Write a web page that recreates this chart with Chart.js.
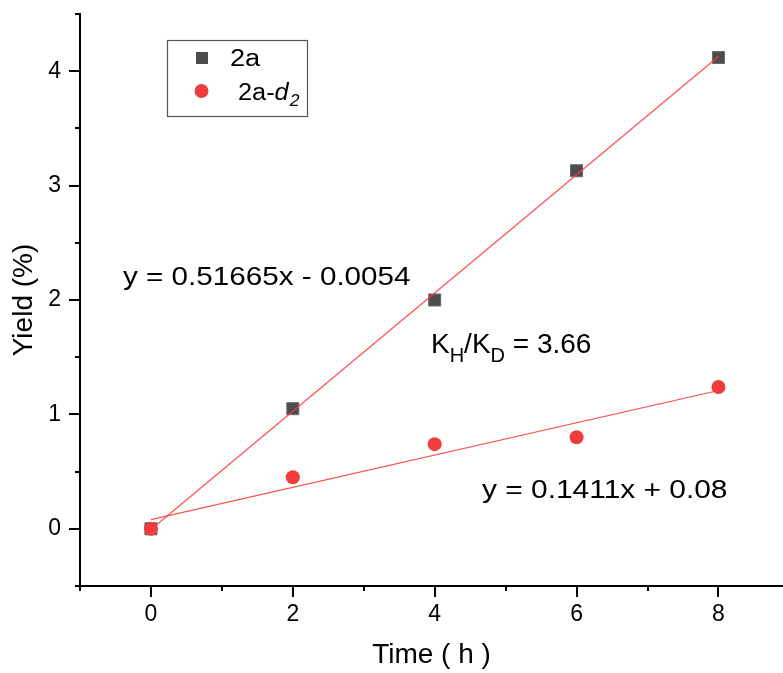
<!DOCTYPE html>
<html>
<head>
<meta charset="utf-8">
<script src="https://cdn.jsdelivr.net/npm/chart.js@4/dist/chart.umd.min.js"></script>
<style>
  html, body { margin: 0; padding: 0; background: #ffffff; overflow: hidden; }
  #wrap { width: 783px; height: 673px; }
  canvas { display: block; }
</style>
</head>
<body>
<div id="wrap"><canvas id="c" width="783" height="673"></canvas></div>
<script>
// ---- data ----
const timeH = [0, 2, 4, 6, 8];
const yield2a = [0, 1.05, 2.0, 3.13, 4.12];
const yield2aD2 = [0, 0.45, 0.74, 0.80, 1.24];
// fitted lines (end points from the printed equations)
const fitX = [0, 8];
const fit2aY = [-0.0054, 4.1278];
const fitD2Y = [0.08, 1.2088];
// axes
const xTicks = [0, 2, 4, 6, 8];
const yTicks = [0, 1, 2, 3, 4];
const xMinorTicks = [-1, 1, 3, 5, 7];
const yMinorTicks = [-0.5, 0.5, 1.5, 2.5, 3.5, 4.5];
const xRange = [-1, 8.91];
const yRange = [-0.5, 4.5];
// texts
const eq2a = 'y = 0.51665x - 0.0054';
const eqD2 = 'y = 0.1411x + 0.08';
const legendLabels = ['2a', '2a-', 'd', '2'];

const FONT = 'Arial, "Liberation Sans", sans-serif';
const squareColor = '#4d4d4d';
const circleColor = '#f03c3c';
const lineColor = 'rgba(255,60,60,0.9)';

function pts(xs, ys) { return xs.map((x, i) => ({ x: x, y: ys[i] })); }

function drawScaledText(ctx, text, x, y, font, sx) {
  ctx.save();
  ctx.font = font;
  ctx.translate(x, y);
  ctx.scale(sx, 1);
  ctx.fillText(text, 0, 0);
  const w = ctx.measureText(text).width * sx;
  ctx.restore();
  return w;
}

function zeroPad(s) { s.paddingTop = 0; s.paddingBottom = 0; s.paddingLeft = 0; s.paddingRight = 0; }

const decorPlugin = {
  id: 'decor',
  afterDraw(chart) {
    const ctx = chart.ctx;
    const xs = chart.scales.x, ys = chart.scales.y;
    const ca = chart.chartArea;
    ctx.save();
    ctx.strokeStyle = '#000';
    ctx.lineWidth = 2;
    ctx.beginPath();
    xTicks.forEach(v => { const p = Math.round(xs.getPixelForValue(v)); ctx.moveTo(p, ca.bottom); ctx.lineTo(p, ca.bottom + 11); });
    xMinorTicks.forEach(v => { const p = Math.round(xs.getPixelForValue(v)); ctx.moveTo(p, ca.bottom); ctx.lineTo(p, ca.bottom + 5); });
    yTicks.forEach(v => { const p = Math.round(ys.getPixelForValue(v)); ctx.moveTo(ca.left, p); ctx.lineTo(ca.left - 11, p); });
    yMinorTicks.forEach(v => { const p = Math.round(ys.getPixelForValue(v)); ctx.moveTo(ca.left, p); ctx.lineTo(ca.left - 5, p); });
    ctx.stroke();

    // legend box
    ctx.lineWidth = 1.2;
    ctx.strokeStyle = '#555';
    ctx.strokeRect(167.5, 40.5, 140, 76);
    ctx.fillStyle = squareColor;
    ctx.fillRect(196, 52, 12, 12);
    ctx.fillStyle = circleColor;
    ctx.beginPath(); ctx.arc(201.5, 91, 7, 0, Math.PI * 2); ctx.fill();
    ctx.fillStyle = '#000';
    ctx.textBaseline = 'alphabetic';
    ctx.textAlign = 'left';
    drawScaledText(ctx, legendLabels[0], 230, 66, '23px ' + FONT, 1.18);
    let x = 238;
    x += drawScaledText(ctx, legendLabels[1], x, 100, '23px ' + FONT, 1.1);
    x += drawScaledText(ctx, legendLabels[2], x, 100, 'italic 23px ' + FONT, 1.1);
    drawScaledText(ctx, legendLabels[3], x + 1, 106, 'italic 16px ' + FONT, 1.1);

    // equations
    drawScaledText(ctx, eq2a, 123, 285, '26px ' + FONT, 1.14);
    drawScaledText(ctx, eqD2, 482, 498, '26px ' + FONT, 1.15);

    // KH/KD
    let kx = 431;
    kx += drawScaledText(ctx, 'K', kx, 353, '28px ' + FONT, 1.0);
    kx += drawScaledText(ctx, 'H', kx, 362, '20px ' + FONT, 1.0);
    kx += drawScaledText(ctx, '/K', kx, 353, '28px ' + FONT, 1.0);
    kx += drawScaledText(ctx, 'D', kx, 362, '20px ' + FONT, 1.0);
    drawScaledText(ctx, ' = 3.66', kx, 353, '28px ' + FONT, 1.0);
    ctx.restore();
  }
};

new Chart(document.getElementById('c'), {
  type: 'scatter',
  data: {
    datasets: [
      { label: 'fit 2a', type: 'line', data: pts(fitX, fit2aY), borderColor: lineColor, borderWidth: 1.2, pointRadius: 0, fill: false, order: 0 },
      { label: 'fit 2a-d2', type: 'line', data: pts(fitX, fitD2Y), borderColor: lineColor, borderWidth: 1.2, pointRadius: 0, fill: false, order: 0 },
      { label: '2a-d2', data: pts(timeH, yield2aD2), pointStyle: 'circle', pointRadius: 7, backgroundColor: circleColor, borderColor: circleColor, borderWidth: 0, order: 1 },
      { label: '2a', data: pts(timeH, yield2a), pointStyle: 'rect', pointRadius: 8.5, backgroundColor: squareColor, borderColor: '#6a6a6a', borderWidth: 1, order: 2 }
    ]
  },
  options: {
    responsive: false,
    animation: false,
    devicePixelRatio: 1,
    layout: { autoPadding: false, padding: { top: 14, right: 0, left: 0, bottom: 0 } },
    plugins: { legend: { display: false }, tooltip: { enabled: false } },
    scales: {
      x: {
        type: 'linear', min: xRange[0], max: xRange[1],
        afterBuildTicks: s => { s.ticks = xTicks.map(v => ({ value: v })); },
        afterFit: s => { s.height = 87; zeroPad(s); },
        grid: { display: false, drawTicks: false },
        border: { display: true, color: '#000', width: 2 },
        ticks: { font: { family: FONT, size: 23 }, color: '#000', padding: 15, maxRotation: 0 },
        title: { display: true, text: 'Time ( h )', font: { family: FONT, size: 28 }, color: '#000', padding: { top: 0, bottom: 1 } }
      },
      y: {
        type: 'linear', min: yRange[0], max: yRange[1],
        afterBuildTicks: s => { s.ticks = yTicks.map(v => ({ value: v })); },
        afterFit: s => { s.width = 80; zeroPad(s); },
        grid: { display: false, drawTicks: false },
        border: { display: true, color: '#000', width: 2 },
        ticks: { font: { family: FONT, size: 23 }, color: '#000', padding: 19 },
        title: { display: true, text: 'Yield (%)', font: { family: FONT, size: 28 }, color: '#000', padding: { top: 7, bottom: 0 } }
      }
    }
  },
  plugins: [decorPlugin]
});
</script>
</body>
</html>
